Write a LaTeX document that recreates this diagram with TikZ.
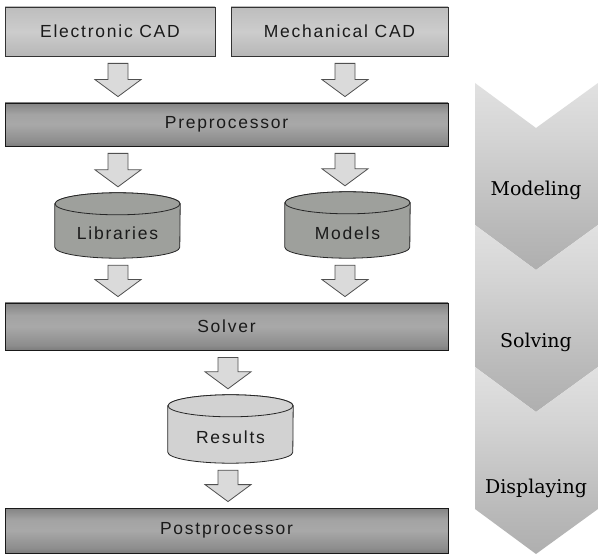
\documentclass[tikz,border=0pt]{standalone}
\usepackage{fontspec}
\setmainfont{Liberation Sans}
\newfontfamily\boxfont[LetterSpace=10]{Liberation Sans}
\newfontfamily\chevfont{DejaVu Serif}
\usetikzlibrary{calc}
\definecolor{cylfill}{HTML}{9EA09C}
\definecolor{resfill}{HTML}{D2D2D2}
\definecolor{arrfill}{HTML}{DADADA}
\definecolor{arrline}{HTML}{505050}
\definecolor{txtcol}{HTML}{1A1A1A}
\pgfdeclareverticalshading{barshade}{100bp}{color(0bp)=(black!88); color(10bp)=(black!70); color(30bp)=(black!45); color(50bp)=(black!34); color(62bp)=(black!36); color(85bp)=(black!58); color(100bp)=(black!85)}
\pgfdeclareverticalshading{cadshade}{100bp}{color(0bp)=(black!58); color(8bp)=(black!34); color(50bp)=(black!20); color(85bp)=(black!28); color(100bp)=(black!52)}
\pgfdeclareverticalshading{chevshade}{100bp}{color(0bp)=(black!40); color(35bp)=(black!28); color(60bp)=(black!17); color(100bp)=(black!3)}
\tikzset{
  cadbox/.style={shade, shading=cadshade, draw=black!80, line width=0.8pt, minimum height=49pt, inner sep=0pt, font=\boxfont\fontsize{17.5}{20}\selectfont, text=txtcol},
  barbox/.style={shade, shading=barshade, draw=black!90, line width=0.8pt, minimum width=443pt, inner sep=0pt, font=\boxfont\fontsize{17.5}{20}\selectfont, text=txtcol},
  cylnode/.style={minimum width=125pt, inner sep=0pt},
  cyltext/.style={inner sep=0pt, font=\boxfont\fontsize{17.5}{20}\selectfont, text=txtcol},
  cylline/.style={draw=black!85, line width=0.8pt},
  blockarrow/.style={fill=arrfill, draw=arrline, line width=0.8pt, line join=miter},
  chevtext/.style={inner sep=0pt, font=\chevfont\fontsize{19}{22}\selectfont, text=black},
}
\newcommand\barrow[3]{%
  \draw[blockarrow] let \p1=(#1.south), \p2=(#2.north) in
  (#3-10,\y1-7) -- (#3+10,\y1-7) -- (#3+10,\y2+23) -- (#3+23,\y2+23) -- (#3,\y2+6) -- (#3-23,\y2+23) -- (#3-10,\y2+23) -- cycle;}
\newcommand\cylshape[2]{%
  \draw[cylline, fill=#2] ($(#1.north west)+(0,-11)$) -- ($(#1.south west)+(0,11)$)
    arc[start angle=180, end angle=360, x radius=62.5, y radius=11]
    -- ($(#1.north east)+(0,-11)$)
    arc[start angle=0, end angle=180, x radius=62.5, y radius=11] -- cycle;
  \draw[cylline, fill=#2] ($(#1.north)+(0,-11)$) ellipse[x radius=62.5, y radius=11];}
\begin{document}
\begin{tikzpicture}[x=1pt,y=1pt]
\useasboundingbox (0,0) rectangle (598,-559);
\fill[white] (0,0) rectangle (598,-559);
% chevrons
\foreach \o in {83,225,367}{
  \shade[shading=chevshade] (475,-\o) -- (536,-\o-45) -- (598,-\o) -- (598,-\o-142) -- (536,-\o-187) -- (475,-\o-142) -- cycle;
}
\node[chevtext] (modeling) at (536,-190) {Modeling};
\node[chevtext] (solving) at (536,-342) {Solving};
\node[chevtext] (displaying) at (536,-488) {Displaying};
% boxes
\node[cadbox, minimum width=210pt] (ecad) at (110,-31.5) {Electronic CAD};
\node[cadbox, minimum width=217pt] (mcad) at (339.5,-31.5) {Mechanical CAD};
\node[barbox, minimum height=43pt] (pre) at (226.5,-124.5) {Preprocessor};
\node[cylnode, minimum height=65pt] (lib) at (117.5,-225.5) {};
\node[cylnode, minimum height=66pt] (mod) at (347.5,-225) {};
\node[barbox, minimum height=47pt] (solver) at (226.5,-326.5) {Solver};
\node[cylnode, minimum height=68pt] (res) at (230.5,-429) {};
\node[barbox, minimum height=45pt] (post) at (226.5,-530.5) {Postprocessor};
\cylshape{lib}{cylfill}
\cylshape{mod}{cylfill}
\cylshape{res}{resfill}
\node[cyltext] (libt) at ($(lib.center)+(0,-8)$) {Libraries};
\node[cyltext] (modt) at ($(mod.center)+(0,-8)$) {Models};
\node[cyltext] (rest) at ($(res.center)+(0,-8)$) {Results};
% block arrows
\barrow{ecad}{pre}{118}
\barrow{mcad}{pre}{345}
\barrow{pre}{lib}{118}
\barrow{pre}{mod}{345}
\barrow{lib}{solver}{118}
\barrow{mod}{solver}{345}
\barrow{solver}{res}{228}
\barrow{res}{post}{228}
\end{tikzpicture}
\end{document}
